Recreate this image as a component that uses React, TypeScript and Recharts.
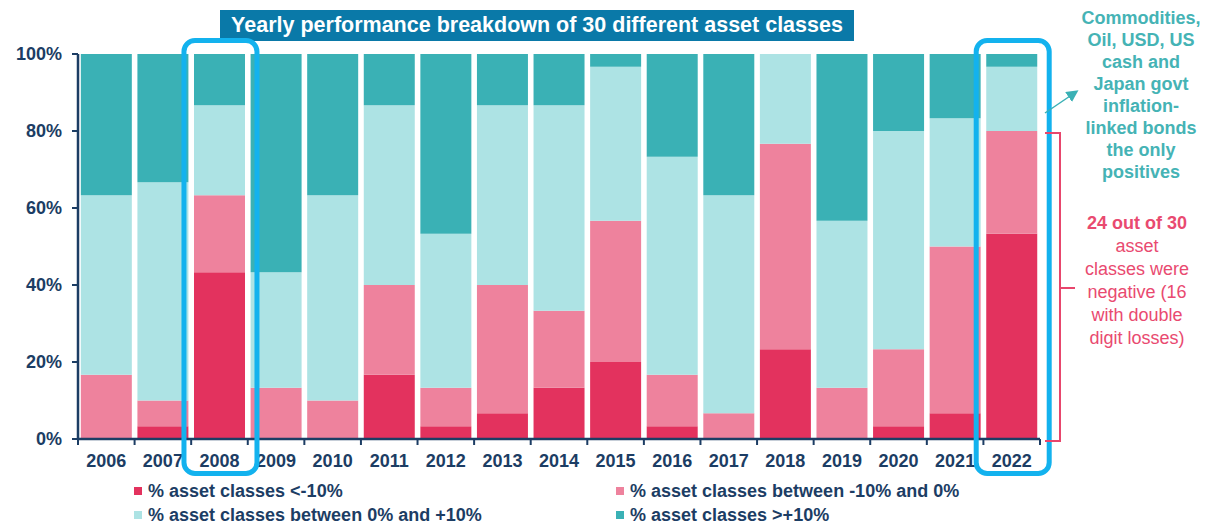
import React from "react";
import { BarChart, Bar, XAxis, YAxis } from "recharts";

// number of asset classes (out of 30) in each performance bucket, per year
const YEARS = ["2006", "2007", "2008", "2009", "2010", "2011", "2012", "2013", "2014", "2015", "2016", "2017", "2018", "2019", "2020", "2021", "2022"];
const BELOW_MINUS_10 = [0, 1, 13, 0, 0, 5, 1, 2, 4, 6, 1, 0, 7, 0, 1, 2, 16];
const MINUS_10_TO_0 = [5, 2, 6, 4, 3, 7, 3, 10, 6, 11, 4, 2, 16, 4, 6, 13, 8];
const ZERO_TO_PLUS_10 = [14, 17, 7, 9, 16, 14, 12, 14, 16, 12, 17, 17, 7, 13, 17, 10, 5];
const ABOVE_PLUS_10 = [11, 10, 4, 17, 11, 4, 14, 4, 4, 1, 8, 11, 0, 13, 6, 5, 1];
const Y_TICKS = [0, 0.2, 0.4, 0.6, 0.8, 1];
const HIGHLIGHT_YEARS = ["2008", "2022"];

const SERIES = [
  { key: "lt10", name: "% asset classes <-10%", color: "#e3325e" },
  { key: "neg", name: "% asset classes between -10% and 0%", color: "#ee829d" },
  { key: "pos", name: "% asset classes between 0% and +10%", color: "#ade3e4" },
  { key: "gt10", name: "% asset classes >+10%", color: "#3ab1b5" },
];

const data = YEARS.map((year, i) => ({
  year,
  lt10: BELOW_MINUS_10[i],
  neg: MINUS_10_TO_0[i],
  pos: ZERO_TO_PLUS_10[i],
  gt10: ABOVE_PLUS_10[i],
}));

const W = 1205;
const H = 523;
const PLOT_LEFT = 78;
const PLOT_RIGHT = 1040;
const PLOT_TOP = 54;
const PLOT_BOTTOM = 439;
const BAND = (PLOT_RIGHT - PLOT_LEFT) / YEARS.length;

const NAVY = "#1c3d64";
const FONT = "'Liberation Sans', Arial, sans-serif";

const XTick = (props: any) => {
  const { x, y, payload, index } = props;
  const half = payload && payload.offset ? payload.offset : BAND / 2;
  const last = index === YEARS.length - 1;
  return (
    <g>
      <line x1={x - half} x2={x - half} y1={y - 8} y2={y - 2} stroke={NAVY} strokeWidth={2} />
      {last && <line x1={x + half} x2={x + half} y1={y - 8} y2={y - 2} stroke={NAVY} strokeWidth={2} />}
      <text x={x} y={y + 20} textAnchor="middle" fill={NAVY} fontSize={18} fontWeight="bold" fontFamily={FONT}>
        {payload.value}
      </text>
    </g>
  );
};

const legendPos = [
  { left: 134, top: 482 },
  { left: 616, top: 482 },
  { left: 134, top: 506 },
  { left: 616, top: 506 },
];

export default function App() {
  return (
    <div style={{ position: "absolute", left: 0, top: 0, width: W, height: H, background: "#fff", fontFamily: FONT }}>
      <BarChart
        width={W}
        height={H}
        data={data}
        stackOffset="expand"
        barCategoryGap="5%"
        margin={{ top: PLOT_TOP, right: W - PLOT_RIGHT, left: PLOT_LEFT - 60, bottom: H - PLOT_BOTTOM - 30 }}
      >
        <XAxis
          dataKey="year"
          height={30}
          axisLine={{ stroke: NAVY, strokeWidth: 2.5 }}
          tickLine={false}
          tick={<XTick />}
          interval={0}
        />
        <YAxis
          width={60}
          domain={[0, 1]}
          ticks={Y_TICKS}
          tickFormatter={(v: number) => `${Math.round(v * 100)}%`}
          axisLine={{ stroke: NAVY, strokeWidth: 2.5 }}
          tickLine={{ stroke: NAVY, strokeWidth: 2 }}
          tickSize={6}
          tickMargin={10}
          tick={{ fill: NAVY, fontSize: 18, fontWeight: "bold", fontFamily: FONT }}
        />
        {SERIES.map((s) => (
          <Bar key={s.key} dataKey={s.key} name={s.name} stackId="a" fill={s.color} isAnimationActive={false} />
        ))}
      </BarChart>

      {/* title */}
      <div
        style={{
          position: "absolute",
          left: 220,
          top: 10,
          width: 634,
          height: 31,
          background: "#0a79a8",
          color: "#fff",
          fontWeight: "bold",
          fontSize: 21.5,
          lineHeight: "31px",
          textAlign: "center",
          whiteSpace: "nowrap",
        }}
      >
        Yearly performance breakdown of 30 different asset classes
      </div>

      {/* annotations */}
      <svg width={W} height={H} style={{ position: "absolute", left: 0, top: 0, pointerEvents: "none" }}>
        <defs>
          <marker id="arr" markerWidth="8" markerHeight="8" refX="6" refY="4" orient="auto">
            <path d="M0,0 L8,4 L0,8 Z" fill="#3ab1b5" />
          </marker>
        </defs>
        {HIGHLIGHT_YEARS.map((y) => {
          const cx = PLOT_LEFT + BAND * (YEARS.indexOf(y) + 0.5);
          return (
            <rect key={y} x={cx - 35.5} y={40.5} width={73} height={433} rx={11} fill="none" stroke="#13b2ee" strokeWidth={5} />
          );
        })}
        <line x1={1045} y1={113} x2={1076} y2={92} stroke="#3ab1b5" strokeWidth={1.5} markerEnd="url(#arr)" />
        <path d="M1045,133 L1060,133 L1060,441 L1045,441 M1060,288 L1075,288" fill="none" stroke="#e8456c" strokeWidth={2} />
        <text textAnchor="middle" fill="#45b3b5" fontSize={18} fontWeight="bold" fontFamily={FONT}>
          {["Commodities,", "Oil, USD, US", "cash and", "Japan govt", "inflation-", "linked bonds", "the only", "positives"].map((t, i) => (
            <tspan key={i} x={1141} y={24 + i * 22}>
              {t}
            </tspan>
          ))}
        </text>
        <text textAnchor="middle" fill="#e94a70" fontSize={18} fontFamily={FONT}>
          {["24 out of 30", "asset", "classes were", "negative (16", "with double", "digit losses)"].map((t, i) => (
            <tspan key={i} x={1137} y={229 + i * 23} fontWeight={i === 0 ? "bold" : "normal"}>
              {t}
            </tspan>
          ))}
        </text>
      </svg>

      {/* legend */}
      {SERIES.map((s, i) => (
        <div
          key={s.key}
          style={{
            position: "absolute",
            left: legendPos[i].left,
            top: legendPos[i].top,
            height: 18,
            display: "flex",
            alignItems: "center",
            color: NAVY,
            fontWeight: "bold",
            fontSize: 18,
            whiteSpace: "nowrap",
          }}
        >
          <span style={{ display: "inline-block", width: 8, height: 8, background: s.color, marginRight: 6 }} />
          {s.name}
        </div>
      ))}
    </div>
  );
}
